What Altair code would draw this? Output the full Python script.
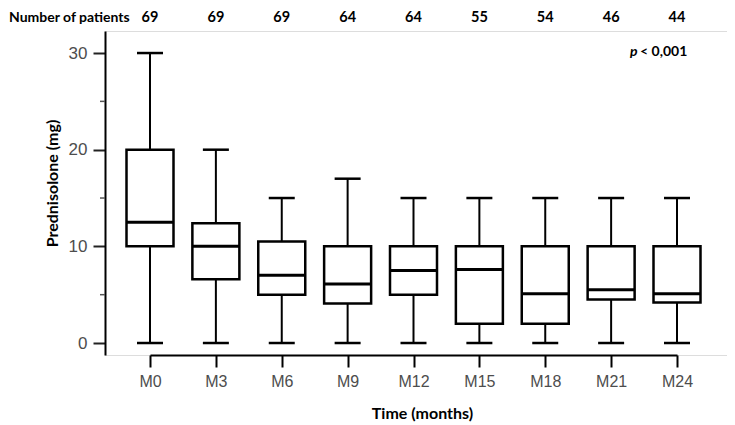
import altair as alt
import pandas as pd

cats = ["M0", "M3", "M6", "M9", "M12", "M15", "M18", "M21", "M24"]
n_patients = [69, 69, 69, 64, 64, 55, 54, 46, 44]
mins = [0, 0, 0, 0, 0, 0, 0, 0, 0]
q1 = [10, 6.6, 5, 4.1, 5, 2, 2, 4.5, 4.2]
med = [12.5, 10, 7, 6.1, 7.5, 7.6, 5.1, 5.5, 5.1]
q3 = [20, 12.4, 10.5, 10, 10, 10, 10, 10, 10]
maxs = [30, 20, 15, 17, 15, 15, 15, 15, 15]
minor_ticks = [5, 15, 25]
major_ticks = [0, 10, 20, 30]

df = pd.DataFrame({"cat": cats, "n": [str(v) for v in n_patients], "min": mins,
                   "q1": q1, "med": med, "q3": q3, "max": maxs})
minor_df = pd.DataFrame({"v": minor_ticks})

LBL = "Liberation Sans"
BOLD = "Lato"

xscale = alt.Scale(type="point", domain=cats, range=[45, 572], padding=0)
yscale = alt.Scale(domain=[-1.24, 32.28], nice=False, zero=False)

X = alt.X("cat:N", scale=xscale, sort=cats,
          axis=alt.Axis(title="Time (months)", labelAngle=0, labelFont=LBL,
                        labelFontSize=16, labelColor="#4d4d4d", labelPadding=6,
                        tickSize=12, tickWidth=2, tickColor="black",
                        domainColor="black", domainWidth=2,
                        titleFont=BOLD, titleFontSize=16, titleFontWeight="bold",
                        titleColor="black", titleX=317, titleY=58,
                        titleAlign="center", titleBaseline="middle"))
Y = alt.Y("min:Q", scale=yscale,
          axis=alt.Axis(title="Prednisolone (mg)", values=major_ticks, format="d",
                        grid=False, labelFont=LBL, labelFontSize=17,
                        labelColor="#4d4d4d", labelPadding=6,
                        tickSize=12, tickWidth=2, tickColor="#222",
                        domainColor="black", domainWidth=2,
                        titleFont=BOLD, titleFontSize=16, titleFontWeight="bold",
                        titleColor="black", titleAngle=270, titleX=-53, titleY=152,
                        titleAlign="center", titleBaseline="middle"))

base = alt.Chart(df)

whisk = base.mark_rule(color="black", strokeWidth=2).encode(x=X, y=Y, y2="max:Q")
box = base.mark_bar(size=47, fill="white", stroke="black", strokeWidth=2.5).encode(
    x=alt.X("cat:N", scale=xscale, sort=cats),
    y=alt.Y("q1:Q", scale=yscale), y2="q3:Q")
median = base.mark_tick(size=47, thickness=3, color="black", opacity=1).encode(
    x=alt.X("cat:N", scale=xscale, sort=cats), y=alt.Y("med:Q", scale=yscale))
cap_lo = base.mark_tick(size=26, thickness=2.5, color="black", opacity=1).encode(
    x=alt.X("cat:N", scale=xscale, sort=cats), y=alt.Y("min:Q", scale=yscale))
cap_hi = base.mark_tick(size=26, thickness=2.5, color="black", opacity=1).encode(
    x=alt.X("cat:N", scale=xscale, sort=cats), y=alt.Y("max:Q", scale=yscale))

minor = alt.Chart(minor_df).mark_rule(color="#555", strokeWidth=1.5).encode(
    y=alt.Y("v:Q", scale=yscale), x=alt.value(-5), x2=alt.value(0))

ntext = base.mark_text(font=BOLD, fontSize=14.5, fontWeight="bold", color="black",
                       baseline="middle").encode(
    x=alt.X("cat:N", scale=xscale, sort=cats), y=alt.value(-13), text="n:N")
nlabel = alt.Chart(pd.DataFrame({"t": ["Number of patients"]})).mark_text(
    font=BOLD, fontSize=14, fontWeight="bold", color="black", align="left",
    baseline="middle").encode(x=alt.value(-96), y=alt.value(-13), text="t:N")
p_it = alt.Chart(pd.DataFrame({"t": ["p"]})).mark_text(
    font=BOLD, fontSize=14, fontWeight="bold", fontStyle="italic", color="black",
    align="left", baseline="middle").encode(x=alt.value(525), y=alt.value(21), text="t:N")
p_rest = alt.Chart(pd.DataFrame({"t": ["< 0,001"]})).mark_text(
    font=BOLD, fontSize=14, fontWeight="bold", color="black",
    align="left", baseline="middle").encode(x=alt.value(535), y=alt.value(21), text="t:N")

chart = alt.layer(whisk, box, median, cap_lo, cap_hi, minor, ntext, nlabel, p_it, p_rest).properties(
    width=622, height=324,
    autosize=alt.AutoSizeParams(type="none"),
    padding={"left": 97, "top": 23, "right": 0, "bottom": 68},
).configure_view(stroke=None).configure(background="white")

chart.save("out.html", embed_options={"renderer": "svg", "actions": False})
